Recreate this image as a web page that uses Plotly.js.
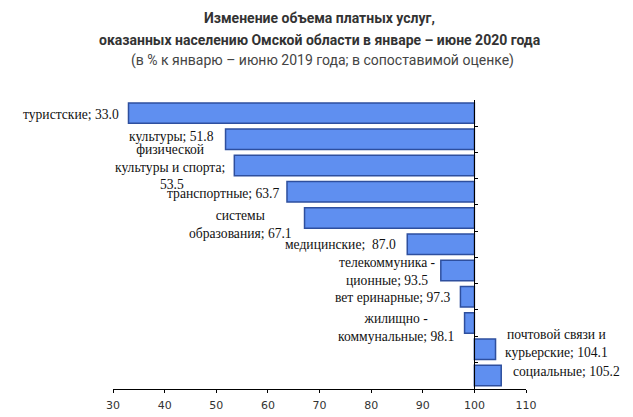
<!DOCTYPE html>
<html>
<head>
<meta charset="utf-8">
<script src="https://cdn.plot.ly/plotly-3.0.1.min.js"></script>
<style>html,body{margin:0;padding:0;background:#fff;}#chart{width:633px;height:417px;}</style>
</head>
<body>
<div id="chart"></div>
<script>
// Data
var categories = ["туристские", "культуры", "физической культуры и спорта", "транспортные", "системы образования", "медицинские", "телекоммуникационные", "ветеринарные", "жилищно-коммунальные", "почтовой связи и курьерские", "социальные"];
var labelNames = ["туристские;", "культуры;", "физической<br>культуры и спорта;<br>", "транспортные;", "системы<br>образования;", "медицинские; ", "телекоммуника -<br>ционные;", "вет еринарные;", "жилищно -<br>коммунальные;", "почтовой связи и<br>курьерские;", "социальные;"];
var values = [33.0, 51.8, 53.5, 63.7, 67.1, 87.0, 93.5, 97.3, 98.1, 104.1, 105.2];
var baseValue = 100;
var xTicks = [30, 40, 50, 60, 70, 80, 90, 100, 110];

// Styles (label nudges, px)
var labelDx = [-7, -10, -7, -6, -11, -9, -3, -7, -9, 7, 10];
var labelDy = [-1, 3, -1, -2, -6, 0, -1, -1, -4, 6, 4];

var xMin = 30, xMax = 110;

var trace = {
  type: 'bar',
  orientation: 'h',
  y: categories,
  x: values.map(function(v){ return v - baseValue; }),
  base: values.map(function(){ return baseValue; }),
  marker: { color: '#5f8ff0', line: { color: '#2e4f9e', width: 1.5 } },
  hoverinfo: 'none'
};

var annotations = values.map(function(v, i){
  var right = v >= baseValue;
  return {
    x: v, y: categories[i], xref: 'x', yref: 'y',
    text: labelNames[i] + ' ' + v.toFixed(1),
    showarrow: false,
    xanchor: right ? 'left' : 'right',
    yanchor: 'middle',
    align: 'center',
    xshift: labelDx[i], yshift: labelDy[i],
    font: { family: 'Liberation Serif, Times New Roman, serif', size: 13.6, color: '#111' }
  };
});

var plotTop = 100, plotBottom = 389, plotH = plotBottom - plotTop;
function py(px){ return (plotBottom - px) / plotH; }
var titleFont = 'Roboto, Noto Sans, sans-serif';
annotations.push(
  { xref: 'paper', yref: 'paper', x: 0.5, y: py(18), text: '<b>Изменение объема платных услуг,</b>', showarrow: false, xanchor: 'center', yanchor: 'middle', font: { family: titleFont, size: 14, color: '#333' } },
  { xref: 'paper', yref: 'paper', x: 0.5, y: py(40), text: '<b>оказанных населению Омской области в январе – июне 2020 года</b>', showarrow: false, xanchor: 'center', yanchor: 'middle', font: { family: titleFont, size: 14, color: '#333' } },
  { xref: 'paper', yref: 'paper', x: 0.5, xshift: 3, y: py(61), text: '(в % к январю – июню 2019 года; в сопоставимой оценке)', showarrow: false, xanchor: 'center', yanchor: 'middle', font: { family: titleFont, size: 14, color: '#444' } }
);

var layout = {
  width: 633, height: 417,
  margin: { l: 113, r: 107, t: plotTop, b: 417 - plotBottom },
  paper_bgcolor: '#fff', plot_bgcolor: '#fff',
  showlegend: false,
  bargap: 0.22,
  xaxis: {
    range: [xMin, xMax], tickvals: xTicks, ticktext: xTicks.map(String),
    showgrid: false, zeroline: false, showline: true, linecolor: '#000', linewidth: 1,
    ticks: 'outside', ticklen: 3, tickcolor: '#000', ticklabelstandoff: 3,
    tickfont: { family: 'DejaVu Sans, sans-serif', size: 11, color: '#333' },
    fixedrange: true
  },
  yaxis: {
    type: 'category', autorange: 'reversed',
    anchor: 'free', position: (baseValue - xMin) / (xMax - xMin),
    showline: true, linecolor: '#000', linewidth: 1,
    showticklabels: false, showgrid: false, zeroline: false,
    ticks: 'inside', ticklen: 3, tickcolor: '#000', tickson: 'boundaries',
    fixedrange: true
  },
  annotations: annotations
};

Plotly.newPlot('chart', [trace], layout, { staticPlot: true });
</script>
</body>
</html>
